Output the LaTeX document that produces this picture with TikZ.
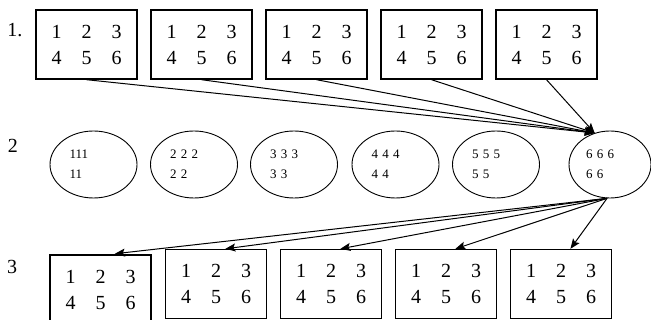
\documentclass[tikz,border=0pt]{standalone}
\usepackage{fontspec}
\setmainfont{Liberation Serif}
\usetikzlibrary{arrows.meta,shapes}
\begin{document}
\begin{tikzpicture}[x=1pt,y=-1pt,>={Stealth[length=10pt,width=8pt,inset=2pt]},
numbox/.style={draw,line width=1.4pt,minimum width=101pt,minimum height=69pt,inner sep=0pt,align=left,font=\fontsize{20}{26}\selectfont},
cell/.style={draw,ellipse,line width=0.9pt,minimum width=87pt,minimum height=67pt,inner sep=0pt,text width=48pt,align=left,font=\fontsize{13}{20}\selectfont},
rowlabel/.style={font=\fontsize{20}{24}\selectfont},
link/.style={->,line width=1pt}]
\useasboundingbox(0,0)rectangle(651,320);
\clip(0,0)rectangle(651,320);
\node[rowlabel](r1)at(15,30){1.};
\node[rowlabel](r2)at(13,146){2};
\node[rowlabel](r3)at(12,267){3};
\foreach \i in {1,...,5}
  \node[numbox](t\i)at({86.5+115*(\i-1)},44.5){1\quad 2\quad 3\\4\quad 5\quad 6};
\foreach \x/\n/\a/\b in {93.5/1/111/11,194/2/2 2 2/2 2,294/3/3 3 3/3 3,395.5/4/4 4 4/4 4,496/5/5 5 5/5 5}
  \node[cell](e\n)at(\x,164.5){\a\\\b};
\node[cell,minimum width=82pt](e6)at(610,164.5){6 6 6\\6 6};
\node[numbox](b1)at(100.5,289.5){1\quad 2\quad 3\\4\quad 5\quad 6};
\foreach \i in {2,...,5}
  \node[numbox](b\i)at({216+115*(\i-2)},284){1\quad 2\quad 3\\4\quad 5\quad 6};
\coordinate(hub)at(e6.116);
\coordinate(src)at(e6.265);
\foreach \i in {1,...,5}\draw[link](t\i.south)--(hub);
\draw[link,shorten >=5pt](src)--(b1.75);
\foreach \i in {2,...,5}\draw[link](src)--(b\i.75);
\end{tikzpicture}
\end{document}
